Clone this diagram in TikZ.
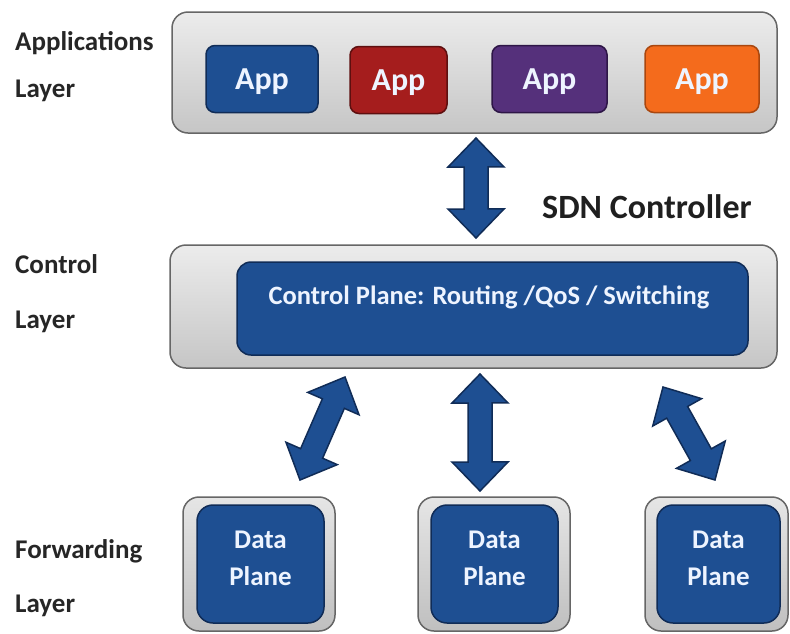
\documentclass[tikz,border=0pt]{standalone}
\usepackage{fontspec}
\setmainfont{Carlito}
\usetikzlibrary{calc}

\definecolor{sdnblue}{HTML}{1E4F92}
\definecolor{sdnedge}{HTML}{102C57}
\definecolor{appred}{HTML}{A51D1D}
\definecolor{appredge}{HTML}{5E0F0F}
\definecolor{apppurple}{HTML}{55307B}
\definecolor{apppedge}{HTML}{2E1647}
\definecolor{apporange}{HTML}{F46B1C}
\definecolor{appoedge}{HTML}{A9470F}
\definecolor{paletext}{HTML}{EEF4FF}

\begin{document}
\begin{tikzpicture}[
  x=1pt, y=-1pt,
  font=\bfseries,
  layerbox/.style={draw=black!60, line width=1.5pt, rounded corners=16pt,
    top color=gray!15, bottom color=gray!45, inner sep=0pt},
  framebox/.style={draw=black!60, line width=1.5pt, rounded corners=16pt,
    top color=gray!20, bottom color=gray!50, inner sep=0pt},
  bluebox/.style={draw=sdnedge, fill=sdnblue, line width=1.5pt, text=paletext, inner sep=0pt},
  appnode/.style={line width=1.5pt, rounded corners=9pt, minimum height=67pt, inner sep=0pt,
    text=paletext, text depth=0pt, font=\fontsize{32}{32}\selectfont\bfseries},
  dpnode/.style={bluebox, rounded corners=16pt, minimum width=127pt, minimum height=118pt},
  dptext/.style={align=center, text=paletext, yshift=6pt,
    font=\fontsize{27}{37}\selectfont\bfseries},
  layerlabel/.style={anchor=base west, inner sep=0pt, text=black!85,
    font=\fontsize{27}{27}\selectfont\bfseries},
  fatlink/.style={fill=sdnblue, draw=sdnedge, line width=1.5pt, line join=miter}
]
\path[use as bounding box, fill=white] (0,0) rectangle (790,633);

% layer labels
\node[layerlabel] (applbl) at (15,50) {Applications};
\node[layerlabel] (applyr) at (15,97) {Layer};
\node[layerlabel] (ctllbl) at (15,273) {Control};
\node[layerlabel] (ctllyr) at (15,328) {Layer};
\node[layerlabel] (fwdlbl) at (15,558) {Forwarding};
\node[layerlabel] (fwdlyr) at (15,612) {Layer};

% applications layer
\node[layerbox, minimum width=605pt, minimum height=121pt] (appsbox) at (474.5,72.5) {};
\node[appnode, fill=sdnblue, draw=sdnedge, minimum width=112pt] (app1) at (262,79) {App};
\node[appnode, fill=appred, draw=appredge, minimum width=97pt] (app2) at (398.5,80) {App};
\node[appnode, fill=apppurple, draw=apppedge, minimum width=115pt] (app3) at (549.5,79) {App};
\node[appnode, fill=apporange, draw=appoedge, minimum width=114pt] (app4) at (702,79) {App};

% control layer
\node[layerbox, minimum width=607pt, minimum height=123pt] (ctlbox) at (473.5,306.5) {};
\node[bluebox, rounded corners=14pt, minimum width=511pt, minimum height=93pt] (ctlplane) at (492.5,308.5) {};
\node[anchor=base, text=paletext, font=\fontsize{26.5}{26.5}\selectfont\bfseries] (ctltext) at (489,304.5)
  {Control Plane: Routing /QoS / Switching};
\node[anchor=base west, inner sep=0pt, text=black!88, font=\fontsize{34}{34}\selectfont\bfseries]
  (sdnlbl) at (542,218) {SDN Controller};

% forwarding layer
\node[framebox, minimum width=152pt, minimum height=134pt] (dpframe1) at (259,564) {};
\node[framebox, minimum width=152pt, minimum height=134pt] (dpframe2) at (494,564) {};
\node[framebox, minimum width=143pt, minimum height=134pt] (dpframe3) at (716.5,564) {};
\node[dpnode, label={[dptext]center:{Data\\Plane}}] (dp1) at (260.5,564) {};
\node[dpnode, label={[dptext]center:{Data\\Plane}}] (dp2) at (494.5,564) {};
\node[dpnode, minimum width=123pt, label={[dptext]center:{Data\\Plane}}] (dp3) at (718.5,564) {};

% arrow ends
\coordinate (apptip) at (476,138);
\coordinate (ctltip) at (476,238);
\coordinate (lup) at (345,377);
\coordinate (ldown) at (300,480);
\coordinate (cup) at (480,374);
\coordinate (cdown) at (480,491);
\coordinate (rup) at (663,387);
\coordinate (rdown) at (715,480);

% double arrows
\foreach \a/\b in {apptip/ctltip, lup/ldown, cup/cdown, rup/rdown}
  \filldraw[fatlink] let \p1=($(\b)-(\a)$), \n1={atan2(\y1,\x1)}, \n2={veclen(\x1,\y1)} in
    (\a) -- ++(\n1+44:40.3pt) -- ++(\n1-90:16pt) -- ++(\n1:\n2-58pt) -- ++(\n1+90:16pt)
    -- (\b) -- ++(\n1-136:40.3pt) -- ++(\n1+90:16pt) -- ++(\n1+180:\n2-58pt)
    -- ++(\n1-90:16pt) -- cycle;
\end{tikzpicture}
\end{document}
